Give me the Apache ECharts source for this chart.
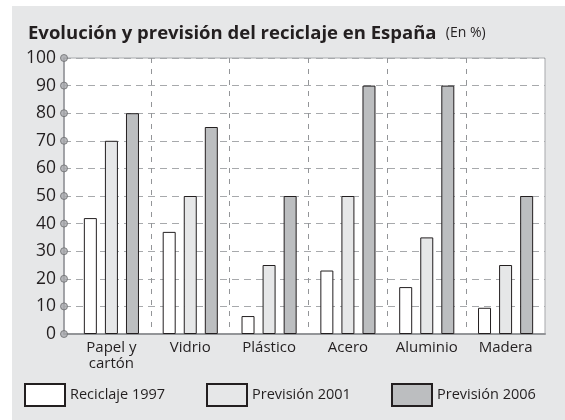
<!DOCTYPE html>
<html>
<head>
<meta charset="utf-8">
<script src="https://cdn.jsdelivr.net/npm/echarts@6/dist/echarts.min.js"></script>
<style>
html,body{margin:0;padding:0;background:#fff;}
#c{width:565px;height:420px;}
</style>
</head>
<body>
<div id="c"></div>
<script>
const categories = ['Papel y\ncartón', 'Vidrio', 'Plástico', 'Acero', 'Aluminio', 'Madera'];
const reciclaje1997 = [42, 37, 6.5, 23, 17, 9.5];
const prevision2001 = [70, 50, 25, 50, 35, 25];
const prevision2006 = [80, 75, 50, 90, 90, 50];
const yTicks = [0, 10, 20, 30, 40, 50, 60, 70, 80, 90, 100];
const seriesNames = ['Reciclaje 1997', 'Previsión 2001', 'Previsión 2006'];

const FONT = 'Open Sans';
const TXT = '#231f20';
const chart = echarts.init(document.getElementById('c'), null, {renderer: 'canvas'});

const barStyle = (color) => ({color: color, borderColor: TXT, borderWidth: 1});

chart.setOption({
  backgroundColor: '#ffffff',
  animation: false,
  textStyle: {fontFamily: FONT},
  graphic: [{
    type: 'rect', z: -10, silent: true,
    shape: {x: 12, y: 6, width: 553, height: 414},
    style: {fill: '#e6e7e8'}
  }],
  title: {
    left: 28, top: 24, padding: 0,
    text: '{b|Evolución y previsión del reciclaje en España}  {n|(En %)}',
    textStyle: {
      rich: {
        b: {fontFamily: FONT, fontWeight: 'bold', fontSize: 18.5, color: TXT},
        n: {fontFamily: FONT, fontWeight: 'normal', fontSize: 14, color: TXT}
      }
    }
  },
  legend: [0, 1, 2].map((i) => ({
    data: [seriesNames[i]],
    left: [24, 206, 391][i], top: 383,
    icon: 'rect', itemWidth: 40, itemHeight: 22,
    padding: 0,
    textStyle: {fontFamily: FONT, fontSize: 14.5, color: TXT},
    selectedMode: false
  })),
  grid: [
    {left: 64, right: 20, top: 58, bottom: 86, show: true, backgroundColor: '#ffffff', borderColor: '#a7a9ac', borderWidth: 1},
    {left: 72, right: 20, top: 58, bottom: 86}
  ],
  xAxis: [
    {
      gridIndex: 0, type: 'value', min: 0, max: 1,
      axisLine: {show: true, lineStyle: {color: '#939598', width: 2}},
      axisTick: {show: false}, axisLabel: {show: false}, splitLine: {show: false}
    },
    {
      gridIndex: 1, type: 'category', data: categories,
      axisLine: {show: false}, axisTick: {show: false, interval: 0},
      splitLine: {show: true, interval: 0, showMinLine: false, showMaxLine: false,
        lineStyle: {color: '#939598', type: [5, 6], width: 1}},
      axisLabel: {interval: 0, fontFamily: FONT, fontSize: 15, lineHeight: 16, color: TXT, margin: 6}
    }
  ],
  yAxis: [
    {
      gridIndex: 0, type: 'value', min: 0, max: 100, interval: 10,
      axisLine: {show: true, lineStyle: {color: '#939598', width: 1.5}},
      axisTick: {show: false},
      splitLine: {show: true, lineStyle: {color: '#a7a9ac', type: [7, 5], width: 1}},
      axisLabel: {fontFamily: FONT, fontSize: 17.5, color: TXT, margin: 8}
    },
    {
      gridIndex: 1, type: 'value', min: 0, max: 100, interval: 10, show: false,
      splitLine: {show: false}
    }
  ],
  series: [
    {
      name: seriesNames[0], type: 'bar', xAxisIndex: 1, yAxisIndex: 1,
      data: reciclaje1997, barWidth: 13, barGap: '62%',
      itemStyle: barStyle('#ffffff')
    },
    {
      name: seriesNames[1], type: 'bar', xAxisIndex: 1, yAxisIndex: 1,
      data: prevision2001, barWidth: 13, barGap: '62%',
      itemStyle: barStyle('#e6e7e8')
    },
    {
      name: seriesNames[2], type: 'bar', xAxisIndex: 1, yAxisIndex: 1,
      data: prevision2006, barWidth: 13, barGap: '62%',
      itemStyle: barStyle('#bcbec0')
    },
    {
      type: 'scatter', xAxisIndex: 0, yAxisIndex: 0, silent: true, clip: false, z: 10,
      data: yTicks.map((t) => [0, t]),
      symbol: 'circle', symbolSize: 7,
      itemStyle: {color: '#a7a9ac', borderColor: '#6d6e71', borderWidth: 1}
    }
  ]
});
</script>
</body>
</html>
